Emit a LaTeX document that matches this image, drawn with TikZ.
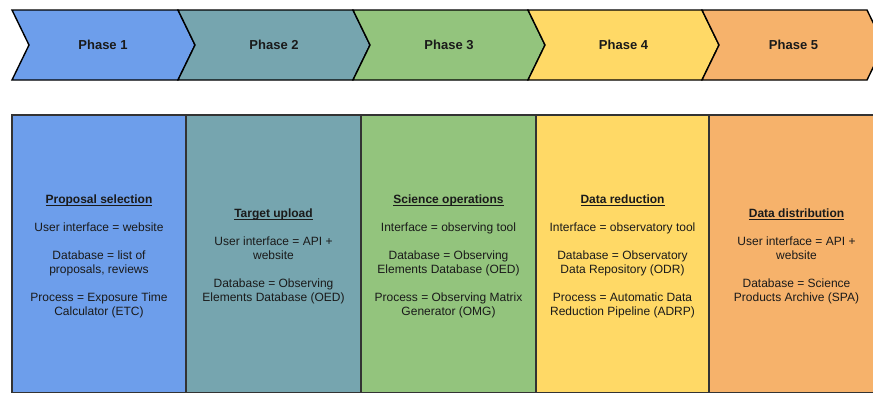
\documentclass[tikz,border=0pt]{standalone}
\usepackage{fontspec}
\setmainfont{Liberation Sans}
\definecolor{cA}{HTML}{6D9EEB}
\definecolor{cB}{HTML}{76A5AF}
\definecolor{cC}{HTML}{93C47D}
\definecolor{cD}{HTML}{FFD966}
\definecolor{cE}{HTML}{F6B26B}
\definecolor{edge}{HTML}{333333}
\definecolor{ink}{HTML}{1A1A1A}
\newcommand{\hd}[1]{\underline{\smash{\textbf{#1}}}}
\tikzset{
  chevron/.style={draw=black, line width=1.4pt, line join=miter},
  panel/.style={draw=edge, line width=1.2pt},
  phaselabel/.style={font=\fontsize{13}{15}\selectfont\bfseries, text=ink},
  paneltext/.style={font=\fontsize{12}{14}\selectfont, text=ink, align=center}
}
\begin{document}
\begin{tikzpicture}[x=1pt,y=-1pt]
\useasboundingbox (0,0) rectangle (873,394);
\clip (0,0) rectangle (873,394);
\fill[white] (0,0) rectangle (873,394);
% chevrons
\path[chevron, fill=cA] (12,10) -- (178,10) -- (195,45) -- (178,80) -- (12,80) -- (29,45) -- cycle;
\path[chevron, fill=cB] (178,10) -- (353,10) -- (370,45) -- (353,80) -- (178,80) -- (195,45) -- cycle;
\path[chevron, fill=cC] (353,10) -- (528,10) -- (545,45) -- (528,80) -- (353,80) -- (370,45) -- cycle;
\path[chevron, fill=cD] (528,10) -- (702,10) -- (719,45) -- (702,80) -- (528,80) -- (545,45) -- cycle;
\path[chevron, fill=cE] (702,10) -- (867,10) -- (884,45) -- (867,80) -- (702,80) -- (719,45) -- cycle;
\node[phaselabel] (p1) at (103,45) {Phase 1};
\node[phaselabel] (p2) at (274,45) {Phase 2};
\node[phaselabel] (p3) at (449,45) {Phase 3};
\node[phaselabel] (p4) at (623.5,45) {Phase 4};
\node[phaselabel] (p5) at (793.5,45) {Phase 5};
% panels
\path[panel, fill=cA] (12,115) rectangle (186,392.5);
\path[panel, fill=cB] (186,115) rectangle (361,392.5);
\path[panel, fill=cC] (361,115) rectangle (536,392.5);
\path[panel, fill=cD] (536,115) rectangle (709,392.5);
\path[panel, fill=cE] (709,115) rectangle (884,392.5);
\node[paneltext] (b1) at (99,261) {\hd{Proposal selection}\\[14pt]
User interface = website\\[14pt]
Database = list of\\ proposals, reviews\\[14pt]
Process = Exposure Time\\ Calculator (ETC)};
\node[paneltext] (b2) at (273.5,261) {\hd{Target upload}\\[14pt]
User interface = API +\\ website\\[14pt]
Database = Observing\\ Elements Database (OED)};
\node[paneltext] (b3) at (448.5,261) {\hd{Science operations}\\[14pt]
Interface = observing tool\\[14pt]
Database = Observing\\ Elements Database (OED)\\[14pt]
Process = Observing Matrix\\ Generator (OMG)};
\node[paneltext] (b4) at (622.5,261) {\hd{Data reduction}\\[14pt]
Interface = observatory tool\\[14pt]
Database = Observatory\\ Data Repository (ODR)\\[14pt]
Process = Automatic Data\\ Reduction Pipeline (ADRP)};
\node[paneltext] (b5) at (796.5,261) {\hd{Data distribution}\\[14pt]
User interface = API +\\ website\\[14pt]
Database = Science\\ Products Archive (SPA)};
\end{tikzpicture}
\end{document}
